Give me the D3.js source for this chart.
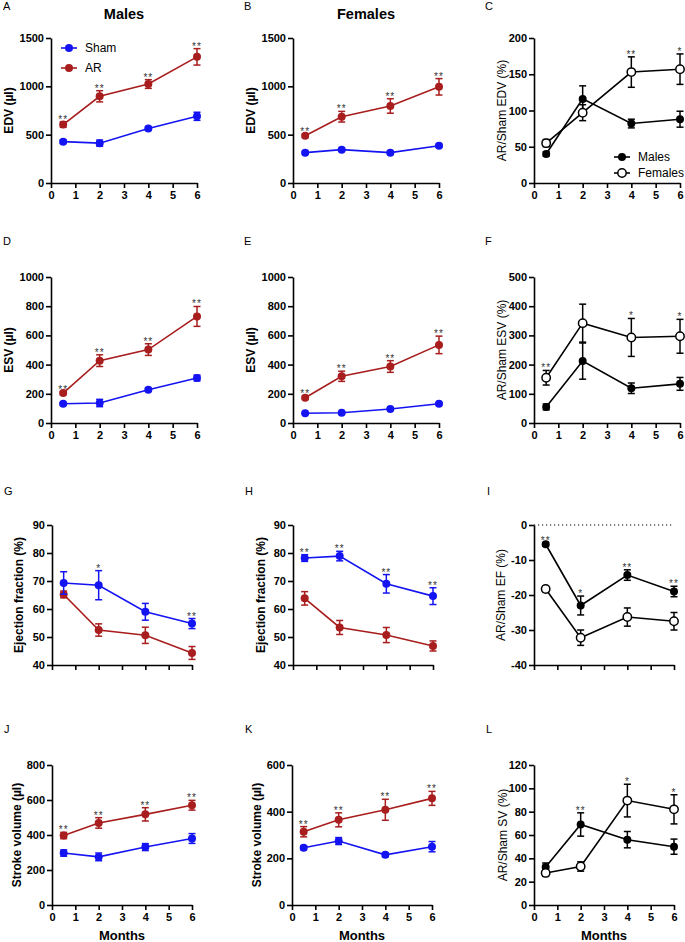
<!DOCTYPE html>
<html><head><meta charset="utf-8">
<script src="https://cdn.jsdelivr.net/npm/d3@7"></script>
<style>
body{margin:0;background:#fff;}
svg{display:block;font-family:"Liberation Sans",Arial,Helvetica,sans-serif;}
</style></head><body>
<svg id="chart" width="685" height="942"></svg>
<script>
// ---------- data ----------
const months = [0.5, 2, 4, 6];
const monthTicks = [0, 1, 2, 3, 4, 5, 6];

// A: EDV males
const edvMaleSham = [428, 412, 563, 690];
const edvMaleShamErr = [18, 32, 18, 42];
const edvMaleAR = [604, 897, 1024, 1305];
const edvMaleARErr = [28, 58, 45, 85];
const edvMaleStars = ["**", "**", "**", "**"];
// B: EDV females
const edvFemaleSham = [314, 345, 314, 386];
const edvFemaleShamErr = [12, 15, 12, 15];
const edvFemaleAR = [489, 686, 797, 995];
const edvFemaleARErr = [18, 55, 75, 85];
const edvFemaleStars = ["**", "**", "**", "**"];
// C: AR/Sham EDV
const edvRatioMale = [40, 116, 82, 88];
const edvRatioMaleErr = [3, 18, 6, 11];
const edvRatioFemale = [55, 97, 153, 157];
const edvRatioFemaleErr = [5, 11, 21, 21];
const edvRatioStars = ["", "", "**", "*"];
// D: ESV males
const esvMaleSham = [132, 137, 228, 308];
const esvMaleShamErr = [8, 25, 10, 20];
const esvMaleAR = [205, 427, 503, 730];
const esvMaleARErr = [10, 40, 40, 68];
const esvMaleStars = ["**", "**", "**", "**"];
// E: ESV females
const esvFemaleSham = [67, 70, 96, 132];
const esvFemaleShamErr = [5, 5, 6, 8];
const esvFemaleAR = [173, 320, 387, 535];
const esvFemaleARErr = [10, 35, 40, 60];
const esvFemaleStars = ["**", "**", "**", "**"];
// F: AR/Sham ESV
const esvRatioMale = [55, 212, 119, 134];
const esvRatioMaleErr = [10, 62, 18, 22];
const esvRatioFemale = [155, 342, 293, 297];
const esvRatioFemaleErr = [25, 65, 65, 58];
const esvRatioStars = ["**", "", "*", "*"];
// G: EF males
const efMaleSham = [69.3, 68.5, 59, 54.8];
const efMaleShamErr = [4, 5.2, 3, 1.8];
const efMaleAR = [65.2, 52.5, 50.6, 44.3];
const efMaleARErr = [1.2, 2.2, 2.9, 2.3];
const efMaleStars = ["", "*", "", "**"];
// H: EF females
const efFemaleSham = [78.2, 78.9, 69, 64.6];
const efFemaleShamErr = [1.2, 1.7, 3.3, 3];
const efFemaleAR = [63.8, 53.4, 50.7, 46.8];
const efFemaleARErr = [2.4, 2.5, 2.7, 1.8];
const efFemaleStars = ["**", "**", "**", "**"];
// I: AR/Sham EF
const efRatioMale = [-5.5, -23, -14.3, -19];
const efRatioMaleErr = [0.5, 2.7, 1.5, 1.5];
const efRatioFemale = [-18.3, -32.2, -26.3, -27.5];
const efRatioFemaleErr = [0.8, 2.2, 2.6, 2.5];
const efRatioStars = ["**", "*", "**", "**"];
// J: SV males
const svMaleSham = [297, 275, 331, 380];
const svMaleShamErr = [18, 22, 20, 28];
const svMaleAR = [397, 469, 518, 570];
const svMaleARErr = [18, 30, 38, 28];
const svMaleStars = ["**", "**", "**", "**"];
// K: SV females
const svFemaleSham = [245, 274, 215, 250];
const svFemaleShamErr = [8, 15, 8, 22];
const svFemaleAR = [314, 365, 408, 457];
const svFemaleARErr = [22, 30, 45, 30];
const svFemaleStars = ["**", "**", "**", "**"];
// L: AR/Sham SV
const svRatioMale = [32.5, 69, 56, 50];
const svRatioMaleErr = [3.5, 10, 7, 6.5];
const svRatioFemale = [27.5, 33, 89.5, 82];
const svRatioFemaleErr = [3, 4, 14, 12.5];
const svRatioMaleStars = ["", "**", "", ""];
const svRatioFemaleStars = ["", "", "*", "*"];

// tick labels
const edvTicks = [0, 500, 1000, 1500];
const edvRatioTicks = [0, 50, 100, 150, 200];
const esvTicks = [0, 200, 400, 600, 800, 1000];
const esvRatioTicks = [0, 100, 200, 300, 400, 500];
const efTicks = [40, 50, 60, 70, 80, 90];
const efRatioTicks = [-40, -30, -20, -10, 0];
const svMaleTicks = [0, 200, 400, 600, 800];
const svFemaleTicks = [0, 200, 400, 600];
const svRatioTicks = [0, 20, 40, 60, 80, 100, 120];

// ---------- drawing ----------
const BLUE = "#1414f2", RED = "#a81d1d", BLACK = "#000";
const svg = d3.select("#chart");

const sham = (v, e, stars) => ({values: v, err: e, color: BLUE, stars, fill: BLUE});
const ar = (v, e, stars) => ({values: v, err: e, color: RED, stars, fill: RED});
const male = (v, e, stars) => ({values: v, err: e, color: BLACK, stars, fill: BLACK});
const female = (v, e, stars) => ({values: v, err: e, color: BLACK, stars, fill: "#fff", open: true});

const rows = [{top: 38, bottom: 183, w: 146, lb: 10, xl: true},
              {top: 277, bottom: 423, w: 146, lb: 245, xl: true},
              {top: 525, bottom: 665, w: 140, lb: 495, xl: false},
              {top: 765, bottom: 905, w: 140, lb: 733, xl: true}];

const panels = [
  {L: "A", r: 0, x0: 51, lx: 3, dom: [0, 1500], ticks: edvTicks, yl: "EDV (µl)", bold: true, yo: -38,
   series: [sham(edvMaleSham, edvMaleShamErr), ar(edvMaleAR, edvMaleARErr, edvMaleStars)], title: "Males"},
  {L: "B", r: 0, x0: 293, lx: 244, dom: [0, 1500], ticks: edvTicks, yl: "EDV (µl)", bold: true, yo: -38,
   series: [sham(edvFemaleSham, edvFemaleShamErr), ar(edvFemaleAR, edvFemaleARErr, edvFemaleStars)], title: "Females"},
  {L: "C", r: 0, x0: 534, lx: 485, dom: [0, 200], ticks: edvRatioTicks, yl: "AR/Sham EDV (%)", bold: false, yo: -28,
   series: [male(edvRatioMale, edvRatioMaleErr), female(edvRatioFemale, edvRatioFemaleErr, edvRatioStars)]},
  {L: "D", r: 1, x0: 51, lx: 3, dom: [0, 1000], ticks: esvTicks, yl: "ESV (µl)", bold: true, yo: -38,
   series: [sham(esvMaleSham, esvMaleShamErr), ar(esvMaleAR, esvMaleARErr, esvMaleStars)]},
  {L: "E", r: 1, x0: 293, lx: 244, dom: [0, 1000], ticks: esvTicks, yl: "ESV (µl)", bold: true, yo: -38,
   series: [sham(esvFemaleSham, esvFemaleShamErr), ar(esvFemaleAR, esvFemaleARErr, esvFemaleStars)]},
  {L: "F", r: 1, x0: 534, lx: 485, dom: [0, 500], ticks: esvRatioTicks, yl: "AR/Sham ESV (%)", bold: false, yo: -28,
   series: [male(esvRatioMale, esvRatioMaleErr), female(esvRatioFemale, esvRatioFemaleErr, esvRatioStars)]},
  {L: "G", r: 2, x0: 52, lx: 4, dom: [40, 90], ticks: efTicks, yl: "Ejection fraction (%)", bold: true, yo: -29,
   series: [ar(efMaleAR, efMaleARErr), sham(efMaleSham, efMaleShamErr, efMaleStars)]},
  {L: "H", r: 2, x0: 293, lx: 245, dom: [40, 90], ticks: efTicks, yl: "Ejection fraction (%)", bold: true, yo: -28,
   series: [ar(efFemaleAR, efFemaleARErr), sham(efFemaleSham, efFemaleShamErr, efFemaleStars)]},
  {L: "I", r: 2, x0: 534, lx: 487, dom: [-40, 0], ticks: efRatioTicks, yl: "AR/Sham EF (%)", bold: false, yo: -29, zeroLine: true,
   series: [male(efRatioMale, efRatioMaleErr, efRatioStars), female(efRatioFemale, efRatioFemaleErr)]},
  {L: "J", r: 3, x0: 52, lx: 4, dom: [0, 800], ticks: svMaleTicks, yl: "Stroke volume (µl)", bold: true, yo: -31,
   series: [sham(svMaleSham, svMaleShamErr), ar(svMaleAR, svMaleARErr, svMaleStars)]},
  {L: "K", r: 3, x0: 292, lx: 245, dom: [0, 600], ticks: svFemaleTicks, yl: "Stroke volume (µl)", bold: true, yo: -31,
   series: [sham(svFemaleSham, svFemaleShamErr), ar(svFemaleAR, svFemaleARErr, svFemaleStars)]},
  {L: "L", r: 3, x0: 534, lx: 486, dom: [0, 120], ticks: svRatioTicks, yl: "AR/Sham SV (%)", bold: false, yo: -27,
   series: [male(svRatioMale, svRatioMaleErr, svRatioMaleStars), female(svRatioFemale, svRatioFemaleErr, svRatioFemaleStars)]}
];

function styleAxis(g) {
  g.select(".domain").attr("stroke", "#000").attr("stroke-width", 1.6);
  g.selectAll(".tick line").attr("stroke", "#000").attr("stroke-width", 1.6);
  g.selectAll(".tick text").attr("fill", "#000").attr("font-size", 11).attr("font-weight", "bold")
    .attr("font-family", '"Liberation Sans",Arial,sans-serif');
}

panels.forEach(p => {
  const row = rows[p.r];
  const g = svg.append("g");
  const x = d3.scaleLinear().domain([0, 6]).range([p.x0, p.x0 + row.w]);
  const y = d3.scaleLinear().domain(p.dom).range([row.bottom, row.top]);

  // panel letter
  g.append("text").attr("x", p.lx).attr("y", row.lb).attr("font-size", 11).text(p.L);
  if (p.title) {
    g.append("text").attr("x", (x.range()[0] + x.range()[1]) / 2).attr("y", 19)
      .attr("text-anchor", "middle").attr("font-size", 14.5).attr("font-weight", "bold").text(p.title);
  }

  // zero reference line
  if (p.zeroLine) {
    g.append("line").attr("x1", x(0)).attr("x2", x(6)).attr("y1", y(0)).attr("y2", y(0))
      .attr("stroke", "#000").attr("stroke-width", 1.2).attr("stroke-dasharray", "1.2,2.8");
  }

  // axes
  const xa = g.append("g").attr("transform", `translate(0,${row.bottom})`)
    .call(d3.axisBottom(x).tickValues(monthTicks).tickSize(5).tickSizeOuter(0).tickPadding(3)
      .tickFormat(d => row.xl ? String(d) : ""));
  styleAxis(xa);
  const ya = g.append("g").attr("transform", `translate(${p.x0},0)`)
    .call(d3.axisLeft(y).tickValues(p.ticks).tickSize(5).tickSizeOuter(0).tickPadding(2)
      .tickFormat(d => String(d)));
  styleAxis(ya);

  // y label
  g.append("text")
    .attr("transform", `translate(${p.x0 + p.yo},${(row.top + row.bottom) / 2}) rotate(-90)`)
    .attr("text-anchor", "middle").attr("font-size", 12)
    .attr("font-weight", p.bold ? "bold" : "normal").text(p.yl);

  if (p.r === 3) {
    g.append("text").attr("x", (x.range()[0] + x.range()[1]) / 2).attr("y", 940)
      .attr("text-anchor", "middle").attr("font-size", 13).attr("font-weight", "bold").text("Months");
  }

  // series
  const line = d3.line().x(d => x(d.m)).y(d => y(d.v));
  p.series.forEach(s => {
    const pts = months.map((m, i) => ({m, v: s.values[i], e: s.err[i], st: s.stars ? s.stars[i] : ""}));
    g.append("path").datum(pts).attr("d", line).attr("fill", "none")
      .attr("stroke", s.color).attr("stroke-width", 1.6);
    const eb = g.append("g").attr("stroke", s.color).attr("stroke-width", 1.5);
    pts.forEach(d => {
      eb.append("line").attr("x1", x(d.m)).attr("x2", x(d.m)).attr("y1", y(d.v - d.e)).attr("y2", y(d.v + d.e));
      eb.append("line").attr("x1", x(d.m) - 3.5).attr("x2", x(d.m) + 3.5).attr("y1", y(d.v - d.e)).attr("y2", y(d.v - d.e));
      eb.append("line").attr("x1", x(d.m) - 3.5).attr("x2", x(d.m) + 3.5).attr("y1", y(d.v + d.e)).attr("y2", y(d.v + d.e));
    });
    g.selectAll(null).data(pts).enter().append("circle")
      .attr("cx", d => x(d.m)).attr("cy", d => y(d.v)).attr("r", s.open ? 4.2 : 4)
      .attr("fill", s.fill).attr("stroke", s.color).attr("stroke-width", s.open ? 1.5 : 0);
    g.selectAll(null).data(pts.filter(d => d.st)).enter().append("text")
      .attr("x", d => x(d.m)).attr("y", d => y(d.v + d.e) + 1)
      .attr("text-anchor", "middle").attr("font-size", 10).attr("fill", "#333")
      .attr("letter-spacing", 1).text(d => d.st);
  });
});

// legends
function legend(items, lx, ly, gap) {
  items.forEach((it, i) => {
    const yy = ly + i * gap;
    svg.append("line").attr("x1", lx).attr("x2", lx + 16).attr("y1", yy).attr("y2", yy)
      .attr("stroke", it.color).attr("stroke-width", 1.6);
    svg.append("circle").attr("cx", lx + 8).attr("cy", yy).attr("r", it.open ? 4.2 : 4)
      .attr("fill", it.fill).attr("stroke", it.color).attr("stroke-width", it.open ? 1.5 : 0);
    svg.append("text").attr("x", lx + 24).attr("y", yy + 4.3).attr("font-size", 12).text(it.label);
  });
}
legend([{label: "Sham", color: BLUE, fill: BLUE}, {label: "AR", color: RED, fill: RED}], 61, 48, 20);
legend([{label: "Males", color: BLACK, fill: BLACK}, {label: "Females", color: BLACK, fill: "#fff", open: true}], 614, 157, 16);
</script>
</body></html>
